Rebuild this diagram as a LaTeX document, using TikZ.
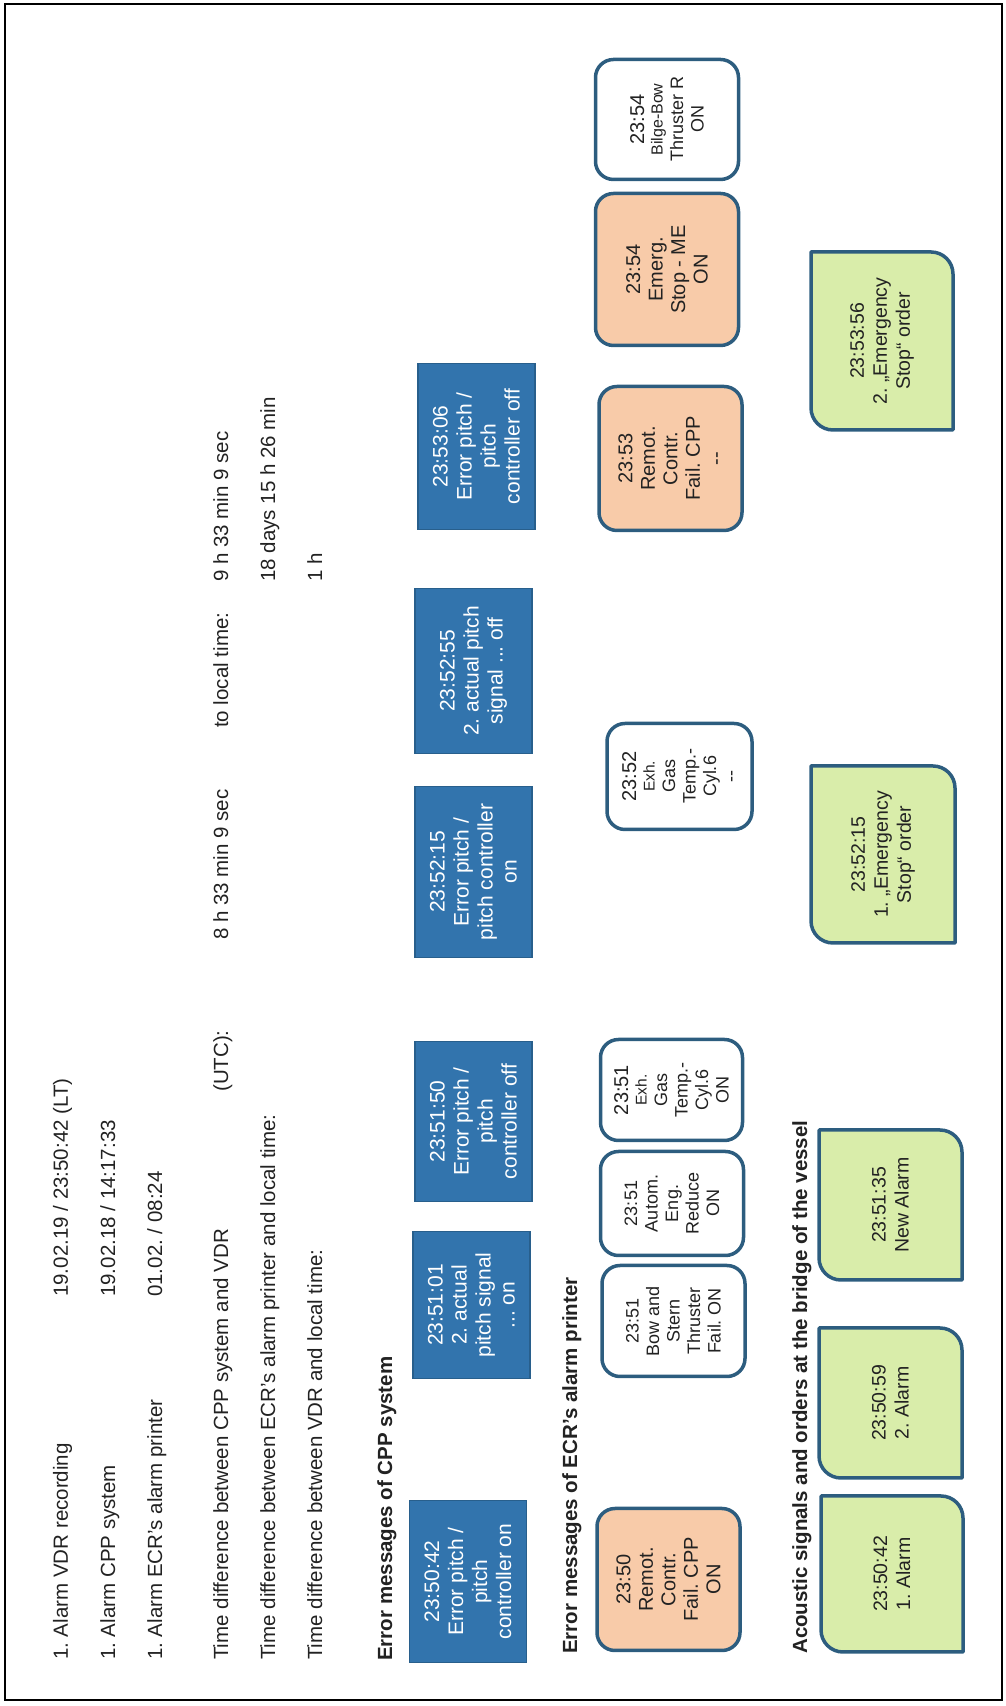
\documentclass[tikz,border=0pt]{standalone}
\usepackage{fontspec}
\setmainfont{Liberation Sans}
\frenchspacing
\definecolor{bluefill}{HTML}{3274AD}
\definecolor{blueline}{HTML}{285F8C}
\definecolor{orangefill}{HTML}{F8CBA9}
\definecolor{greenfill}{HTML}{D9EDAA}
\definecolor{boxline}{HTML}{2D5D7F}
\definecolor{txtcol}{HTML}{222222}
\newcommand\gshapepath[4]{%
  \filldraw[gshape] (#2,-#3) -- (#2,-#4+22) arc[start angle=0,end angle=-90,radius=22pt]
    -- (#1,-#4) -- (#1,-#3-22) arc[start angle=180,end angle=90,radius=22pt] -- cycle;}
\begin{document}
\begin{tikzpicture}[x=1pt,y=1pt,
  txt/.style={font=\fontsize{20.5}{24}\selectfont, text=txtcol, inner sep=0pt, anchor=base west},
  head/.style={txt, font=\fontsize{20.5}{24}\selectfont\bfseries},
  bluebox/.style={fill=bluefill, draw=blueline, line width=1.5pt, text=white, align=center,
    font=\fontsize{21}{24}\selectfont, inner sep=2pt},
  ecrbox/.style={draw=boxline, line width=3.5pt, rounded corners=18pt, align=center,
    text=txtcol, inner sep=2pt},
  orangebox/.style={ecrbox, fill=orangefill, font=\fontsize{20}{22.5}\selectfont},
  whitebox/.style={ecrbox, fill=white, font=\fontsize{18}{20.5}\selectfont},
  gtext/.style={align=center, text=txtcol, font=\fontsize{19.5}{23}\selectfont, inner sep=0pt},
  gshape/.style={fill=greenfill, draw=boxline, line width=3.5pt, line join=round}]
\useasboundingbox (0,0) rectangle (1005,1706);
\draw[line width=2.5pt] (5,6) rectangle (1002,1702);
\begin{scope}[rotate=90, transform shape]
% header text
\node[txt] (t1) at (46,-68) {1. Alarm VDR recording};
\node[txt] (t1b) at (409,-68) {19.02.19 / 23:50:42 (LT)};
\node[txt] (t2) at (46,-115) {1. Alarm CPP system};
\node[txt] (t2b) at (409,-115) {19.02.18 / 14:17:33};
\node[txt] (t3) at (46,-162) {1. Alarm ECR’s alarm printer};
\node[txt] (t3b) at (409,-162) {01.02. / 08:24};
\node[txt] (t4) at (46,-228) {Time difference between CPP system and VDR};
\node[txt] (t4b) at (614,-228) {(UTC):};
\node[txt] (t4c) at (766,-228) {8 h 33 min 9 sec};
\node[txt] (t4d) at (978,-228) {to local time:};
\node[txt] (t4e) at (1124,-228) {9 h 33 min 9 sec};
\node[txt] (t5) at (46,-275) {Time difference between ECR’s alarm printer and local time:};
\node[txt] (t5b) at (1124,-275) {18 days 15 h 26 min};
\node[txt] (t6) at (46,-322) {Time difference between VDR and local time:};
\node[txt] (t6b) at (1124,-322) {1 h};
% headings
\node[head] (h1) at (45,-392) {Error messages of CPP system};
\node[head] (h2) at (52,-577) {Error messages of ECR’s alarm printer};
\node[head] (h3) at (52,-807) {Acoustic signals and orders at the bridge of the vessel};
% CPP blue boxes
\node[bluebox, minimum width=162pt, minimum height=117pt] (b1) at (124.5,-468)
  {23:50:42\\Error pitch /\\pitch\\controller on};
\node[bluebox, minimum width=147pt, minimum height=117pt] (b2) at (401,-471.5)
  {23:51:01\\2. actual\\pitch signal\\... on};
\node[bluebox, minimum width=160pt, minimum height=117pt] (b3) at (584.5,-473.5)
  {23:51:50\\Error pitch /\\pitch\\controller off};
\node[bluebox, minimum width=171pt, minimum height=117pt] (b4) at (834,-473.5)
  {23:52:15\\Error pitch /\\pitch controller\\on};
\node[bluebox, minimum width=165pt, minimum height=117pt] (b5) at (1035,-473.5)
  {23:52:55\\2. actual pitch\\signal ... off};
\node[bluebox, minimum width=166pt, minimum height=117pt] (b6) at (1259.5,-476.5)
  {23:53:06\\Error pitch /\\pitch\\controller off};
% ECR boxes
\node[orangebox, minimum width=142pt, minimum height=143pt] (e1) at (126.5,-668.5)
  {23:50\\Remot.\\Contr.\\Fail. CPP\\ON};
\node[whitebox, minimum width=111pt, minimum height=143pt] (e2) at (385,-673.5)
  {23:51\\Bow and\\Stern\\Thruster\\Fail. ON};
\node[whitebox, minimum width=104pt, minimum height=143pt] (e3) at (502.5,-672)
  {23:51\\Autom.\\Eng.\\Reduce\\ON};
\node[whitebox, minimum width=101pt, minimum height=142pt] (e4) at (616,-671.5)
  {\fontsize{20}{22}\selectfont 23:51\\[-2pt]\fontsize{15.5}{17}\selectfont Exh.\\Gas\\Temp.-\\Cyl.6\\ON};
\node[whitebox, minimum width=106pt, minimum height=145pt] (e5) at (929.5,-679.5)
  {\fontsize{20}{22}\selectfont 23:52\\[-2pt]\fontsize{15.5}{17}\selectfont Exh.\\Gas\\Temp.-\\Cyl.6\\-{}-};
\node[orangebox, minimum width=144pt, minimum height=143pt] (e6) at (1247.5,-670.5)
  {23:53\\Remot.\\Contr.\\Fail. CPP\\-{}-};
\node[orangebox, minimum width=152pt, minimum height=143pt] (e7) at (1436.5,-667)
  {23:54\\Emerg.\\Stop - ME\\ON};
\node[whitebox, minimum width=120pt, minimum height=143pt] (e8) at (1586.5,-667)
  {\fontsize{20}{22}\selectfont 23:54\\[-2pt]\fontsize{16}{17.5}\selectfont Bilge-Bow\\Thruster R\\ON};
% acoustic green boxes
\gshapepath{54}{210}{821}{963}
\gshapepath{228}{378}{819}{962}
\gshapepath{426}{576}{819}{962}
\gshapepath{763}{940}{811}{955}
\gshapepath{1276}{1454}{811}{953}
\node[gtext] (g1) at (132,-892) {23:50:42\\1. Alarm};
\node[gtext] (g2) at (303,-890.5) {23:50:59\\2. Alarm};
\node[gtext] (g3) at (501,-890.5) {23:51:35\\New Alarm};
\node[gtext] (g4) at (851.5,-883) {23:52:15\\1. „Emergency\\Stop“ order};
\node[gtext] (g5) at (1365,-882) {23:53:56\\2. „Emergency\\Stop“ order};
\end{scope}
\end{tikzpicture}
\end{document}
